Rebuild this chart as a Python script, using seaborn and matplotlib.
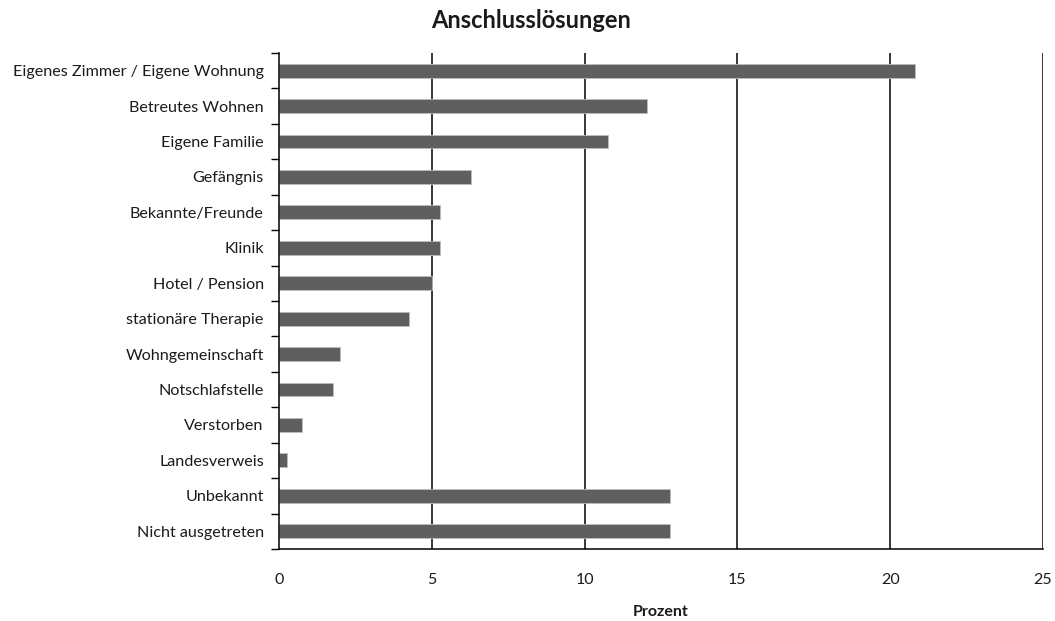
import matplotlib
matplotlib.use("Agg")
import matplotlib.pyplot as plt
import seaborn as sns
import pandas as pd
import numpy as np

categories = [
    "Eigenes Zimmer / Eigene Wohnung",
    "Betreutes Wohnen",
    "Eigene Familie",
    "Gefängnis",
    "Bekannte/Freunde",
    "Klinik",
    "Hotel / Pension",
    "stationäre Therapie",
    "Wohngemeinschaft",
    "Notschlafstelle",
    "Verstorben",
    "Landesverweis",
    "Unbekannt",
    "Nicht ausgetreten",
]
prozent = [20.80, 12.03, 10.78, 6.27, 5.26, 5.26, 5.01, 4.26, 2.01, 1.75, 0.75, 0.25, 12.78, 12.78]
x_ticks = [0, 5, 10, 15, 20, 25]

sns.set_theme(style="white")
plt.rcParams["font.family"] = ["Lato", "DejaVu Sans"]

df = pd.DataFrame({"Kategorie": categories, "Prozent": prozent})

fig = plt.figure(figsize=(10.55, 6.21), dpi=100)
ax = fig.add_axes([0.2645, 0.116, 0.9886 - 0.2645, 0.9147 - 0.116])

sns.barplot(data=df, y="Kategorie", x="Prozent", orient="h", color="#5f5f5f",
            saturation=1, width=0.39, edgecolor="#bdbdbd", linewidth=0.6, ax=ax)

ax.set_xlim(0, 25)
ax.set_ylim(len(categories) - 0.5, -0.5)
ax.set_xticks(x_ticks)
ax.set_xticklabels([str(t) for t in x_ticks], fontsize=11.5, color="#1a1a1a")
ax.tick_params(axis="x", direction="out", length=6, width=1, color="black", pad=11)

# category labels without ticks, boundary ticks as minor ticks
ax.set_yticks(np.arange(len(categories)))
ax.set_yticklabels(categories, fontsize=11.6, color="#1a1a1a")
ax.set_yticks(np.arange(len(categories) + 1) - 0.5, minor=True)
ax.tick_params(axis="y", which="major", length=0, pad=11)
ax.tick_params(axis="y", which="minor", direction="out", length=6, width=1, color="black", left=True)

for x in x_ticks[1:]:
    ax.axvline(x, color="black", lw=1.1, zorder=0.5)

for side in ["top", "right"]:
    ax.spines[side].set_visible(False)
for side in ["left", "bottom"]:
    ax.spines[side].set_color("black")
    ax.spines[side].set_linewidth(1.1)

ax.set_ylabel("")
ax.set_xlabel("Prozent", fontsize=11.5, fontweight="bold", color="#1a1a1a", labelpad=13)
fig.suptitle("Anschlusslösungen", x=0.503, y=0.985, fontsize=17, fontweight="bold", color="#1a1a1a")

fig.savefig("out.png", dpi=100)
